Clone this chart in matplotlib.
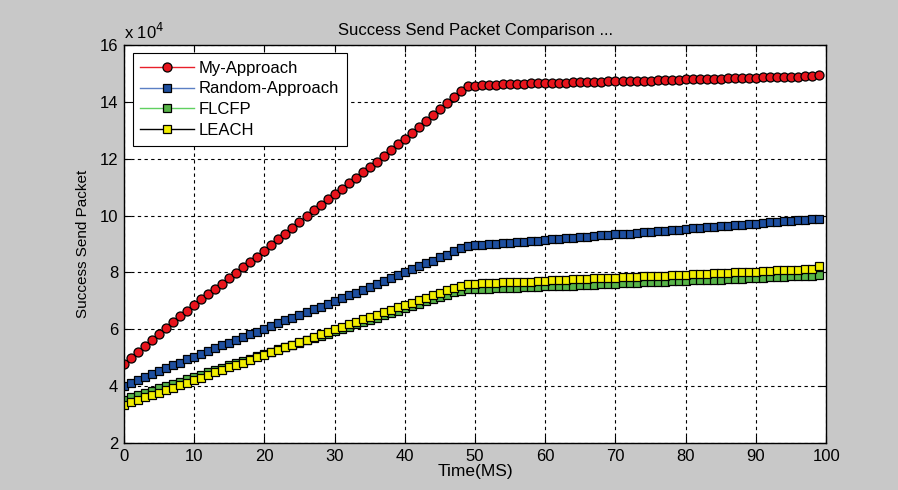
import matplotlib.pyplot as plt
from matplotlib.ticker import FuncFormatter
import numpy as np

plt.rcParams['font.family'] = ['Liberation Sans', 'DejaVu Sans']

# time steps (MS)
time_ms = list(range(100))

# success send packets, in units of 1e4
my_approach = [
    4.78, 4.99, 5.20, 5.41, 5.62, 5.82, 6.03, 6.24, 6.45, 6.65,
    6.86, 7.05, 7.24, 7.43, 7.61, 7.80, 7.99, 8.18, 8.37, 8.55,
    8.74, 8.95, 9.16, 9.37, 9.58, 9.79, 10.00, 10.19, 10.38, 10.57,
    10.76, 10.95, 11.14, 11.33, 11.52, 11.71, 11.90, 12.10, 12.30, 12.51,
    12.71, 12.92, 13.12, 13.33, 13.54, 13.75, 13.96, 14.16, 14.39, 14.57,
    14.57, 14.60, 14.61, 14.61, 14.62, 14.62, 14.63, 14.64, 14.65, 14.65,
    14.66, 14.67, 14.67, 14.68, 14.69, 14.69, 14.70, 14.70, 14.71, 14.72,
    14.72, 14.73, 14.74, 14.74, 14.75, 14.75, 14.76, 14.77, 14.77, 14.78,
    14.79, 14.79, 14.80, 14.81, 14.81, 14.82, 14.83, 14.83, 14.84, 14.84,
    14.85, 14.86, 14.86, 14.87, 14.88, 14.89, 14.89, 14.90, 14.91, 14.93,
]
random_approach = [
    4.00, 4.10, 4.21, 4.31, 4.42, 4.52, 4.62, 4.73, 4.83, 4.94,
    5.04, 5.14, 5.24, 5.34, 5.44, 5.53, 5.63, 5.72, 5.82, 5.92,
    6.02, 6.12, 6.21, 6.31, 6.41, 6.51, 6.61, 6.70, 6.80, 6.90,
    7.00, 7.10, 7.19, 7.29, 7.39, 7.49, 7.59, 7.69, 7.79, 7.90,
    8.00, 8.11, 8.21, 8.32, 8.42, 8.53, 8.63, 8.74, 8.86, 8.94,
    8.95, 8.97, 8.99, 9.01, 9.03, 9.05, 9.06, 9.08, 9.10, 9.12,
    9.14, 9.16, 9.18, 9.20, 9.22, 9.24, 9.26, 9.28, 9.30, 9.32,
    9.34, 9.35, 9.37, 9.39, 9.41, 9.43, 9.45, 9.47, 9.49, 9.51,
    9.53, 9.55, 9.57, 9.59, 9.60, 9.62, 9.64, 9.66, 9.68, 9.70,
    9.72, 9.74, 9.76, 9.78, 9.80, 9.82, 9.84, 9.85, 9.87, 9.89,
]
flcfp = [
    3.52, 3.60, 3.68, 3.76, 3.84, 3.92, 4.00, 4.08, 4.16, 4.24,
    4.32, 4.40, 4.48, 4.57, 4.65, 4.73, 4.81, 4.89, 4.97, 5.05,
    5.13, 5.21, 5.29, 5.37, 5.45, 5.53, 5.61, 5.69, 5.77, 5.85,
    5.93, 6.01, 6.09, 6.17, 6.25, 6.33, 6.41, 6.50, 6.58, 6.66,
    6.74, 6.82, 6.90, 6.98, 7.06, 7.14, 7.22, 7.30, 7.36, 7.40,
    7.41, 7.42, 7.42, 7.44, 7.45, 7.45, 7.47, 7.48, 7.48, 7.50,
    7.51, 7.51, 7.53, 7.54, 7.54, 7.56, 7.57, 7.57, 7.59, 7.60,
    7.60, 7.62, 7.63, 7.63, 7.65, 7.66, 7.66, 7.68, 7.69, 7.69,
    7.71, 7.72, 7.72, 7.74, 7.75, 7.75, 7.77, 7.78, 7.78, 7.80,
    7.81, 7.81, 7.83, 7.84, 7.84, 7.86, 7.87, 7.87, 7.89, 7.90,
]
leach = [
    3.35, 3.43, 3.52, 3.60, 3.69, 3.77, 3.86, 3.94, 4.03, 4.12,
    4.21, 4.30, 4.39, 4.48, 4.57, 4.66, 4.74, 4.83, 4.92, 5.01,
    5.10, 5.19, 5.28, 5.37, 5.46, 5.55, 5.64, 5.73, 5.82, 5.91,
    6.00, 6.09, 6.17, 6.26, 6.35, 6.43, 6.52, 6.60, 6.69, 6.77,
    6.86, 6.94, 7.03, 7.11, 7.20, 7.28, 7.37, 7.45, 7.54, 7.60,
    7.61, 7.62, 7.62, 7.64, 7.65, 7.65, 7.67, 7.68, 7.68, 7.70,
    7.71, 7.72, 7.73, 7.74, 7.76, 7.76, 7.77, 7.79, 7.80, 7.80,
    7.82, 7.83, 7.83, 7.85, 7.86, 7.87, 7.88, 7.89, 7.91, 7.91,
    7.92, 7.94, 7.95, 7.95, 7.97, 7.98, 7.99, 8.00, 8.01, 8.03,
    8.03, 8.04, 8.06, 8.07, 8.07, 8.09, 8.10, 8.11, 8.12, 8.21,
]

fig = plt.figure(figsize=(8.98, 4.90), dpi=100, facecolor='#c8c8c8')
ax = fig.add_axes([0.138, 0.096, 0.782, 0.812])
ax.set_facecolor('white')

scale = 1e4
ax.plot(time_ms, np.array(my_approach) * scale, color='#e8202a', linewidth=1,
        marker='o', markersize=6.5, markerfacecolor='#e8141c',
        markeredgecolor='black', markeredgewidth=0.9, label='My-Approach')
ax.plot(time_ms, np.array(random_approach) * scale, color='#5b7fc4', linewidth=1,
        marker='s', markersize=6, markerfacecolor='#1e4fa0',
        markeredgecolor='black', markeredgewidth=0.9, label='Random-Approach')
ax.plot(time_ms, np.array(flcfp) * scale, color='#60d060', linewidth=1,
        marker='s', markersize=6, markerfacecolor='#58b448',
        markeredgecolor='black', markeredgewidth=0.9, label='FLCFP')
ax.plot(time_ms, np.array(leach) * scale, color='black', linewidth=1,
        marker='s', markersize=6, markerfacecolor='#f2ee00',
        markeredgecolor='black', markeredgewidth=0.9, label='LEACH')

ax.set_xlim(0, 100)
ax.set_ylim(2e4, 16e4)
ax.set_xticks(range(0, 101, 10))
ax.set_yticks(np.arange(2, 17, 2) * scale)
ax.yaxis.set_major_formatter(FuncFormatter(lambda v, p: '%d' % round(v / scale)))
ax.tick_params(direction='in', length=5, top=True, right=True,
               labelsize=12, colors='black', pad=4)
ax.grid(True, color='black', linestyle=(0, (3, 3)), linewidth=0.8)
for s in ax.spines.values():
    s.set_linewidth(1)

ax.text(0.0, 1.008, 'x 10$^{4}$', transform=ax.transAxes, fontsize=12,
        ha='left', va='bottom')
ax.set_title('Success Send Packet Comparison ...', fontsize=12, pad=7)
ax.set_xlabel('Time(MS)', fontsize=12.5, labelpad=0.5)
ax.set_ylabel('Success Send Packet', fontsize=11, labelpad=7)

leg = ax.legend(loc='upper left', bbox_to_anchor=(0.0128, 0.98), fontsize=12,
                handlelength=3.2, borderpad=0.45, labelspacing=0.35,
                handletextpad=0.3, borderaxespad=0, fancybox=False,
                framealpha=1, edgecolor='black')
leg.get_frame().set_linewidth(0.8)

fig.savefig('out.png', dpi=100, facecolor=fig.get_facecolor())
